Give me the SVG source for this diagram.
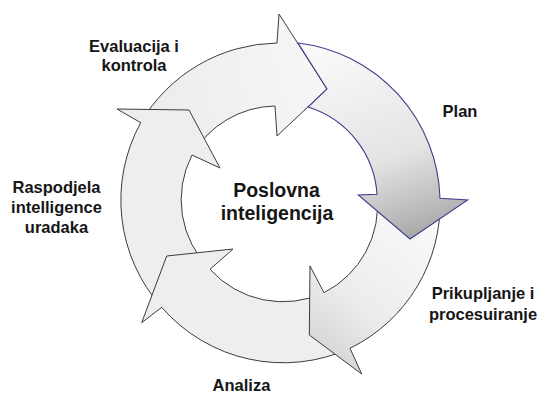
<svg xmlns="http://www.w3.org/2000/svg" width="540" height="394" viewBox="0 0 540 394">
  <defs>
    <linearGradient id="gPlan" gradientUnits="userSpaceOnUse" x1="340" y1="45" x2="405" y2="240">
      <stop offset="0" stop-color="#f9f9f9"/>
      <stop offset="0.6" stop-color="#e4e4e4"/>
      <stop offset="1" stop-color="#a9a9a9"/>
    </linearGradient>
    <linearGradient id="gRight" gradientUnits="userSpaceOnUse" x1="440" y1="210" x2="320" y2="360">
      <stop offset="0" stop-color="#fbfbfb"/>
      <stop offset="0.65" stop-color="#ececec"/>
      <stop offset="1" stop-color="#d3d3d3"/>
    </linearGradient>
    <linearGradient id="gTop" gradientUnits="userSpaceOnUse" x1="150" y1="120" x2="320" y2="80">
      <stop offset="0" stop-color="#ececec"/>
      <stop offset="1" stop-color="#f6f6f6"/>
    </linearGradient>
  </defs>
  <style>
    .arrow { fill: #eeeeee; stroke: #3c3c3c; stroke-width: 1; stroke-linejoin: miter; }
    .plan { fill: url(#gPlan); stroke: #3d3d8f; stroke-width: 1.1; }
    .right { fill: url(#gRight); }
    .top { fill: url(#gTop); }
    .lbl { font-family: "Liberation Sans", Arial, sans-serif; font-weight: bold; font-size: 16.5px; fill: #161616; text-anchor: middle; }
    .center { font-size: 19.5px; }
  </style>
  <rect width="540" height="394" fill="#ffffff"/>
  <g id="arrows">
    <g id="arrow-evaluacija">
      <path class="arrow top" d="M 140.7,122.7 A 161 161 0 0 1 277,43 L 279,14 L 327,89 L 277,136 L 275,106 A 98 98 0 0 0 192,155 Z"/>
    </g>
    <g id="arrow-raspodjela">
      <path class="arrow" d="M 161.7,307.3 A 161 161 0 0 1 140.7,122.7 L 117,109 L 189,110 L 220,168 L 192,155 A 98 98 0 0 0 210,269.3 Z"/>
    </g>
    <g id="arrow-analiza">
      <path class="arrow" d="M 350,348.3 A 161 161 0 0 1 161.7,307.3 L 141.7,322.7 L 166.7,256 L 233,249 L 210,269.3 A 98 98 0 0 0 324,292.7 Z"/>
    </g>
    <g id="arrow-prikupljanje">
      <path class="arrow right" d="M 440,198.3 A 161 161 0 0 1 350,348.3 L 361.7,374 L 309.3,335 L 310,266 L 324,292.7 A 98 98 0 0 0 377,194.3 Z"/>
    </g>
    <g id="arrow-plan">
      <path class="plan" d="M 298,43 A 161 161 0 0 1 440,198.3 L 467.7,200 L 410,239 L 358.3,195 L 377,194.3 A 98 98 0 0 0 308,107 L 327,89 Z"/>
    </g>
  </g>
  <g id="label-center">
    <text class="lbl center" x="276.5" y="196.5">Poslovna</text>
    <text class="lbl center" x="277" y="220">inteligencija</text>
  </g>
  <g id="label-evaluacija">
    <text class="lbl" x="134" y="52">Evaluacija i</text>
    <text class="lbl" x="134" y="71">kontrola</text>
  </g>
  <g id="label-plan">
    <text class="lbl" x="460" y="117">Plan</text>
  </g>
  <g id="label-prikupljanje">
    <text class="lbl" x="483" y="299">Prikupljanje i</text>
    <text class="lbl" x="483" y="320">procesuiranje</text>
  </g>
  <g id="label-analiza">
    <text class="lbl" x="241.5" y="391">Analiza</text>
  </g>
  <g id="label-raspodjela">
    <text class="lbl" x="56.5" y="193">Raspodjela</text>
    <text class="lbl" x="56.5" y="213">intelligence</text>
    <text class="lbl" x="56.5" y="233">uradaka</text>
  </g>
</svg>
